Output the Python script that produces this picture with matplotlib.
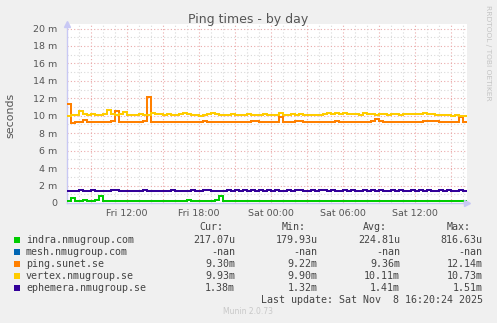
import numpy as np
import matplotlib
matplotlib.use("Agg")
import matplotlib.pyplot as plt

# ---------------- data (milliseconds), 20-minute steps from Fri 07:00 ----------------
start_hour = 7.0          # Fri 07:00 (hours since Fri 00:00)
end_hour = 40.0 + 1/3.0   # Sat 16:20
step = 1/3.0

ping_sunet = [11.4, 9.2, 9.3, 9.28, 9.5, 9.3, 9.27, 9.3, 9.32, 9.28,
              9.3, 9.35, 10.6, 9.3, 9.28, 9.3, 9.34, 9.3, 9.27, 9.42,
              12.14, 9.3, 9.28, 9.3, 9.26, 9.3, 9.33, 9.28, 9.3, 9.27,
              9.3, 9.32, 9.28, 9.3, 9.45, 9.3, 9.27, 9.3, 9.28, 9.32,
              9.3, 9.27, 9.3, 9.33, 9.28, 9.3, 9.35, 9.45, 9.3, 9.28,
              9.3, 9.27, 9.32, 9.9, 9.3, 9.28, 9.3, 9.45, 9.4, 9.3,
              9.28, 9.3, 9.27, 9.3, 9.32, 9.28, 9.3, 9.45, 9.3, 9.28,
              9.3, 9.27, 9.3, 9.33, 9.28, 9.3, 9.35, 9.6, 9.35, 9.3,
              9.28, 9.3, 9.27, 9.32, 9.3, 9.28, 9.3, 9.27, 9.3, 9.35,
              9.4, 9.4, 9.35, 9.28, 9.3, 9.27, 9.3, 9.32, 9.8, 9.3]

vertex = [10.0, 10.05, 10.1, 10.5, 10.15, 10.1, 10.2, 10.1, 10.05, 10.15,
          10.7, 10.2, 10.1, 10.15, 10.4, 10.1, 10.05, 10.1, 10.15, 10.1,
          10.05, 10.35, 10.15, 10.2, 10.1, 10.15, 10.1, 10.05, 10.15, 10.35,
          10.2, 10.1, 10.05, 9.95, 10.1, 10.2, 10.3, 10.2, 10.1, 10.05,
          10.1, 10.15, 10.1, 10.05, 10.1, 10.15, 10.1, 10.05, 10.1, 10.25,
          10.1, 10.05, 10.1, 10.35, 10.1, 10.05, 10.15, 10.1, 10.2, 10.1,
          10.05, 10.1, 10.05, 10.1, 10.2, 10.3, 10.25, 10.3, 10.25, 10.35,
          10.2, 10.15, 10.2, 10.1, 10.3, 10.15, 10.2, 10.1, 10.15, 10.2,
          10.1, 10.15, 10.2, 10.1, 10.15, 10.2, 10.15, 10.25, 10.2, 10.35,
          10.15, 10.2, 10.1, 10.05, 10.1, 10.05, 10.0, 10.05, 10.0, 9.93]

ephemera = [1.35, 1.36, 1.35, 1.45, 1.36, 1.35, 1.44, 1.36, 1.35, 1.35,
            1.36, 1.44, 1.45, 1.35, 1.36, 1.35, 1.35, 1.36, 1.35, 1.44,
            1.36, 1.35, 1.35, 1.36, 1.35, 1.35, 1.45, 1.36, 1.35, 1.36,
            1.35, 1.44, 1.36, 1.35, 1.45, 1.44, 1.36, 1.35, 1.35, 1.36,
            1.45, 1.36, 1.44, 1.35, 1.45, 1.36, 1.44, 1.35, 1.45, 1.36,
            1.45, 1.36, 1.44, 1.36, 1.35, 1.45, 1.36, 1.44, 1.45, 1.36,
            1.35, 1.44, 1.36, 1.45, 1.45, 1.36, 1.44, 1.36, 1.35, 1.45,
            1.36, 1.44, 1.36, 1.35, 1.45, 1.36, 1.44, 1.36, 1.45, 1.36,
            1.35, 1.44, 1.36, 1.45, 1.36, 1.35, 1.44, 1.36, 1.45, 1.35,
            1.44, 1.36, 1.35, 1.45, 1.36, 1.44, 1.36, 1.35, 1.44, 1.38]

indra = [0.2, 0.55, 0.22, 0.2, 0.35, 0.2, 0.2, 0.3, 0.82, 0.22,
         0.2, 0.21, 0.2, 0.22, 0.2, 0.21, 0.2, 0.2, 0.22, 0.2,
         0.21, 0.2, 0.2, 0.22, 0.2, 0.21, 0.2, 0.22, 0.2, 0.21,
         0.32, 0.2, 0.22, 0.2, 0.21, 0.2, 0.22, 0.3, 0.75, 0.25,
         0.2, 0.21, 0.2, 0.22, 0.2, 0.21, 0.2, 0.22, 0.2, 0.21,
         0.2, 0.22, 0.2, 0.21, 0.2, 0.22, 0.2, 0.21, 0.2, 0.22,
         0.2, 0.21, 0.2, 0.22, 0.2, 0.21, 0.2, 0.22, 0.2, 0.21,
         0.2, 0.22, 0.2, 0.21, 0.2, 0.22, 0.2, 0.21, 0.2, 0.22,
         0.2, 0.21, 0.2, 0.22, 0.2, 0.21, 0.2, 0.22, 0.2, 0.21,
         0.2, 0.22, 0.2, 0.21, 0.2, 0.22, 0.2, 0.21, 0.2, 0.217]

series_names = ["indra.nmugroup.com", "mesh.nmugroup.com", "ping.sunet.se",
                "vertex.nmugroup.se", "ephemera.nmugroup.se"]
series_colors = ["#00CC00", "#0066B3", "#FF8000", "#FFCC00", "#330099"]
cur_vals = ["217.07u", "-nan", "9.30m", "9.93m", "1.38m"]
min_vals = ["179.93u", "-nan", "9.22m", "9.90m", "1.32m"]
avg_vals = ["224.81u", "-nan", "9.36m", "10.11m", "1.41m"]
max_vals = ["816.63u", "-nan", "12.14m", "10.73m", "1.51m"]

y_ticks = [0, 2, 4, 6, 8, 10, 12, 14, 16, 18, 20]
y_tick_labels = ["0", "2 m", "4 m", "6 m", "8 m", "10 m", "12 m", "14 m",
                 "16 m", "18 m", "20 m"]
x_label_hours = [12, 18, 24, 30, 36]
x_labels = ["Fri 12:00", "Fri 18:00", "Sat 00:00", "Sat 06:00", "Sat 12:00"]

title = "Ping times - by day"
last_update = "Last update: Sat Nov  8 16:20:24 2025"

# ---------------- figure ----------------
W, H = 497, 323
fig = plt.figure(figsize=(W / 100, H / 100), dpi=100, facecolor="#F0F0F0")

left_px, right_px, bottom_px, top_px = 67, 467, 203, 24
ax = fig.add_axes([left_px / W, 1 - bottom_px / H,
                   (right_px - left_px) / W, (bottom_px - top_px) / H])
ax.set_facecolor("white")

ymax = 20 * (bottom_px - top_px) / (bottom_px - 28.5)
ax.set_xlim(start_hour, end_hour)
ax.set_ylim(0, ymax)

# grid
minor_c = "#d9d9d9"
major_c = "#eaaaaa"
dots = (0, (1, 2))
for h in range(8, 41):
    is_major = (h % 3 == 0)
    ax.axvline(h, color=major_c if is_major else minor_c, lw=0.8,
               ls=dots, zorder=1)
for v in range(1, 21):
    is_major = (v % 2 == 0)
    ax.axhline(v, color=major_c if is_major else minor_c, lw=0.8,
               ls=dots, zorder=1)

x = start_hour + step * np.arange(len(indra))
x_ext = np.append(x, x[-1] + step)
def draw(vals, color):
    v = np.append(np.array(vals, dtype=float), vals[-1])
    ax.plot(x_ext, v, drawstyle="steps-post", color=color, lw=1.45,
            zorder=3, solid_joinstyle="miter")

draw(indra, series_colors[0])
draw(ping_sunet, series_colors[2])
draw(vertex, series_colors[3])
draw(ephemera, series_colors[4])

# axes styling
for s in ["top", "right"]:
    ax.spines[s].set_visible(False)
axis_c = "#c8c8f4"
ax.spines["left"].set_color(axis_c)
ax.spines["bottom"].set_color(axis_c)
ax.spines["left"].set_linewidth(1.0)
ax.spines["bottom"].set_linewidth(1.0)
ax.plot([0], [1.0], marker="^", color=axis_c, ms=5, transform=ax.transAxes,
        clip_on=False, zorder=5)
ax.plot([1.0], [0], marker=">", color=axis_c, ms=5, transform=ax.transAxes,
        clip_on=False, zorder=5)

ax.set_yticks(y_ticks)
ax.set_yticklabels(y_tick_labels)
ax.set_xticks(x_label_hours)
ax.set_xticklabels(x_labels)
ax.tick_params(axis="both", length=0, labelsize=6.8, colors="#555555")
ax.tick_params(axis="y", pad=7)
ax.tick_params(axis="x", pad=4)

# texts
fig.text(248 / W, 1 - 19.5 / H, title, ha="center", va="center",
         fontsize=9, color="#555555")
fig.text(10.7 / W, 1 - 115 / H, "seconds", rotation=90, ha="center",
         va="center", fontsize=7.9, color="#555555")
fig.text(488 / W, 1 - 5 / H, "RRDTOOL / TOBI OETIKER", rotation=270,
         ha="center", va="top", fontsize=5.4, color="#c4c4c4")

mono = "DejaVu Sans Mono"
fs = 7.2
txt_c = "#444444"
header_y = 227.5
for lbl, xl in zip(["Cur:", "Min:", "Avg:", "Max:"], [199, 282, 363, 447]):
    fig.text(xl / W, 1 - header_y / H, lbl, ha="left", va="center",
             family=mono, fontsize=fs, color=txt_c)

row_y = [240, 252, 264, 276, 288]
for i, name in enumerate(series_names):
    yy = 1 - row_y[i] / H
    fig.patches.append(plt.Rectangle((14 / W, 1 - (row_y[i] + 3) / H),
                                     6 / W, 6 / H, transform=fig.transFigure,
                                     facecolor=series_colors[i], edgecolor="none"))
    fig.text(26 / W, yy, name, ha="left", va="center", family=mono,
             fontsize=fs, color=txt_c)
    for col, xr in zip([cur_vals, min_vals, avg_vals, max_vals],
                       [235, 317.7, 400, 482.7]):
        fig.text(xr / W, yy, col[i], ha="right", va="center", family=mono,
                 fontsize=fs, color=txt_c)

fig.text(482.7 / W, 1 - 299.7 / H, last_update, ha="right", va="center",
         family=mono, fontsize=fs, color=txt_c)
fig.text(248 / W, 1 - 311.7 / H, "Munin 2.0.73", ha="center", va="center",
         fontsize=5.5, color="#c8c8c8")

fig.savefig("out.png", dpi=100, facecolor=fig.get_facecolor())
